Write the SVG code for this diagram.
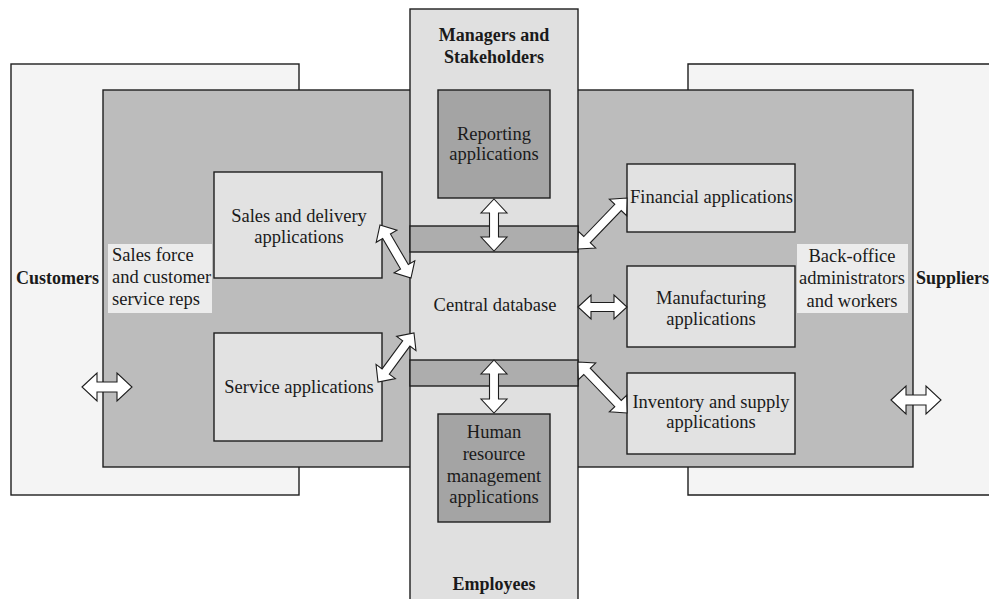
<svg xmlns="http://www.w3.org/2000/svg" width="989" height="599" viewBox="0 0 989 599">
<style>
.ln{fill:none;stroke:#1e1e1e;stroke-width:1.4}
.box{stroke:#1e1e1e;stroke-width:1.4}
.ent{fill:#bcbcbc}
.app{fill:#e2e2e2}
.dark{fill:#a4a4a4}
.col{fill:#e0e0e0}
.band{fill:#adadad}
.lab{fill:#ececec}
.arr{fill:#ffffff;stroke:#1e1e1e;stroke-width:1.1;stroke-linejoin:miter}
text{font-family:"Liberation Serif","Times New Roman",serif;font-size:18.5px;fill:#1a1a1a}
.b{font-weight:bold;font-size:18px}
.m{text-anchor:middle}
</style>
<rect width="989" height="599" fill="#ffffff"/>
<g id="customers">
<rect x="11" y="64" width="288" height="431" fill="#f4f4f4" class="box"/>
<text x="16" y="284" class="b">Customers</text>
</g>
<g id="suppliers">
<path d="M995,64 H688 V495 H995" fill="#f4f4f4" class="box"/>
<text x="916" y="284" class="b">Suppliers</text>
</g>
<g id="enterprise">
<rect x="103" y="90" width="810" height="377" class="ent box"/>
</g>
<g id="column">
<rect x="410" y="9" width="168" height="600" class="col box"/>
<rect x="410" y="226" width="168" height="26" class="band box"/>
<rect x="410" y="360" width="168" height="26" class="band box"/>
</g>
<g id="managers">
<text x="494" y="41" class="b m">Managers and</text>
<text x="494" y="63" class="b m">Stakeholders</text>
</g>
<g id="reporting">
<rect x="438" y="90" width="112" height="108" class="dark box"/>
<text x="494" y="140" class="m">Reporting</text>
<text x="494" y="160" class="m">applications</text>
</g>
<g id="central-database">
<text x="495" y="311" class="m">Central database</text>
</g>
<g id="hr">
<rect x="438" y="414" width="112" height="108" class="dark box"/>
<text x="494" y="438" class="m">Human</text>
<text x="494" y="460" class="m">resource</text>
<text x="494" y="482" class="m">management</text>
<text x="494" y="503" class="m">applications</text>
</g>
<g id="employees">
<text x="494" y="590" class="b m">Employees</text>
</g>
<g id="sales-delivery">
<rect x="214" y="172" width="168" height="106" class="app box"/>
<text x="299" y="222" class="m">Sales and delivery</text>
<text x="299" y="243" class="m">applications</text>
</g>
<g id="service">
<rect x="214" y="333" width="168" height="108" class="app box"/>
<text x="299" y="393" class="m">Service applications</text>
</g>
<g id="sales-force">
<rect x="108" y="244" width="104" height="69" class="lab"/>
<text x="112" y="261">Sales force</text>
<text x="112" y="283">and customer</text>
<text x="112" y="305">service reps</text>
</g>
<g id="financial">
<rect x="627" y="164" width="168" height="68" class="app box"/>
<text x="630" y="203">Financial applications</text>
</g>
<g id="manufacturing">
<rect x="627" y="266" width="168" height="81" class="app box"/>
<text x="711" y="304" class="m">Manufacturing</text>
<text x="711" y="325" class="m">applications</text>
</g>
<g id="inventory">
<rect x="627" y="373" width="168" height="81" class="app box"/>
<text x="711" y="408" class="m">Inventory and supply</text>
<text x="711" y="428" class="m">applications</text>
</g>
<g id="back-office">
<rect x="797" y="244" width="111" height="69" class="lab"/>
<text x="852" y="262" class="m">Back-office</text>
<text x="852" y="284" class="m">administrators</text>
<text x="852" y="307" class="m">and workers</text>
</g>
<g id="connectors">
<polygon class="arr" transform="translate(494,199) rotate(90)" points="0,0 14,-13 14,-4.5 38,-4.5 38,-13 52,0 38,13 38,4.5 14,4.5 14,13"/>
<polygon class="arr" transform="translate(494,360) rotate(90)" points="0,0 14,-13 14,-4.5 39,-4.5 39,-13 53,0 39,13 39,4.5 14,4.5 14,13"/>
<polygon class="arr" transform="translate(380,225) rotate(59.7)" points="0,0 13,-12 13,-4.5 48.4,-4.5 48.4,-12 61.4,0 48.4,12 48.4,4.5 13,4.5 13,12"/>
<polygon class="arr" transform="translate(414,333) rotate(126.3)" points="0,0 13,-12 13,-4.5 47.8,-4.5 47.8,-12 60.8,0 47.8,12 47.8,4.5 13,4.5 13,12"/>
<polygon class="arr" transform="translate(578,249) rotate(-46.1)" points="0,0 13,-12 13,-4.5 57.7,-4.5 57.7,-12 70.7,0 57.7,12 57.7,4.5 13,4.5 13,12"/>
<polygon class="arr" transform="translate(578,307)" points="0,0 13,-12 13,-4.5 36,-4.5 36,-12 49,0 36,12 36,4.5 13,4.5 13,12"/>
<polygon class="arr" transform="translate(578,362) rotate(46.1)" points="0,0 13,-12 13,-4.5 57.7,-4.5 57.7,-12 70.7,0 57.7,12 57.7,4.5 13,4.5 13,12"/>
<polygon class="arr" transform="translate(82,387)" points="0,0 15,-14 15,-5 35,-5 35,-14 50,0 35,14 35,5 15,5 15,14"/>
<polygon class="arr" transform="translate(891,400)" points="0,0 15,-14 15,-5 35,-5 35,-14 50,0 35,14 35,5 15,5 15,14"/>
</g>
</svg>
